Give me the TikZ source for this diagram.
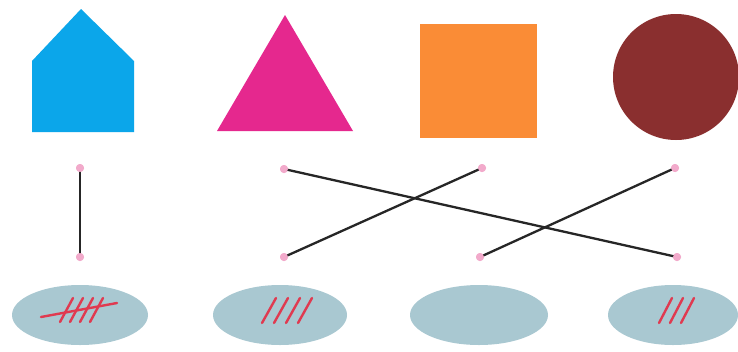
\documentclass[tikz,border=0pt]{standalone}
\usetikzlibrary{shapes.geometric}
\definecolor{houseblue}{HTML}{0BA6EA}
\definecolor{trimag}{HTML}{E5288E}
\definecolor{sqorange}{HTML}{FA8C36}
\definecolor{cbrown}{HTML}{8A2F2F}
\definecolor{ellblue}{HTML}{A9C8D1}
\definecolor{tallyred}{HTML}{E03A50}
\definecolor{dotpink}{HTML}{F2AACB}
\tikzset{
  dotnode/.style={circle,fill=dotpink,inner sep=0pt,minimum size=8pt},
  plate/.style={ellipse,fill=ellblue,inner sep=0pt,minimum width=136pt,minimum height=60pt},
  link/.style={line width=2.3pt,black!85},
  tally/.style={line width=2.4pt,tallyred,line cap=round}
}
\begin{document}
\begin{tikzpicture}[x=1pt,y=-1pt]
\useasboundingbox (0,0) rectangle (738,351);
\fill[white] (0,0) rectangle (738,351);
% shapes
\fill[houseblue] (32,132) -- (32,61) -- (81,9) -- (134,61) -- (134,132) -- cycle;
\fill[trimag] (217,131) -- (285,15) -- (353,131) -- cycle;
\fill[sqorange] (420,24) rectangle (537,138);
\fill[cbrown] (676,77) circle (63);
% dots
\node[dotnode] (t1) at (80,168) {};
\node[dotnode] (t2) at (284,169) {};
\node[dotnode] (t3) at (482,168) {};
\node[dotnode] (t4) at (675,168) {};
\node[dotnode] (b1) at (80,257) {};
\node[dotnode] (b2) at (284,257) {};
\node[dotnode] (b3) at (480,257) {};
\node[dotnode] (b4) at (677,257) {};
% links
\draw[link] (t1.center) -- (b1.center);
\draw[link] (t2.center) -- (b4.center);
\draw[link] (t3.center) -- (b2.center);
\draw[link] (t4.center) -- (b3.center);
\node[dotnode] at (t1) {};
\node[dotnode] at (t2) {};
\node[dotnode] at (t3) {};
\node[dotnode] at (t4) {};
\node[dotnode] at (b1) {};
\node[dotnode] at (b2) {};
\node[dotnode] at (b3) {};
\node[dotnode] at (b4) {};
% plates
\node[plate] (p1) at (80,315) {};
\node[plate,minimum width=134pt] (p2) at (280,315) {};
\node[plate,minimum width=138pt] (p3) at (479,315) {};
\node[plate,minimum width=130pt] (p4) at (673,315) {};
% tallies
\foreach \i in {0,1,2,3}{
  \draw[tally] ({60+10*\i},322) -- ({73+10*\i},298);
  \draw[tally] ({262+12*\i},323) -- ({276+12*\i},298);
}
\draw[tally] (41,317) -- (117,303);
\foreach \i in {0,1,2}{
  \draw[tally] ({659+11*\i},323) -- ({672+11*\i},298);
}
\end{tikzpicture}
\end{document}
